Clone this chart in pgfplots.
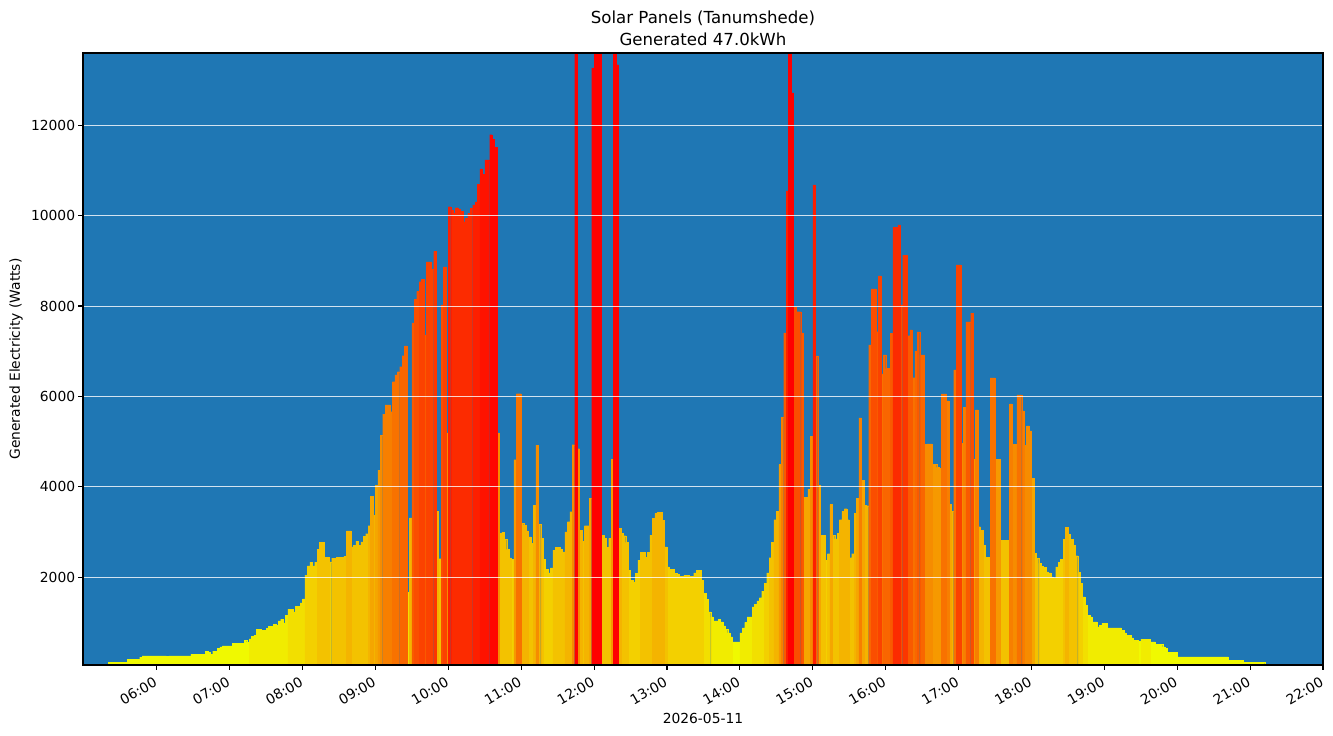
\documentclass[border=0pt]{standalone}
\usepackage{pgfplots}
\pgfplotsset{compat=1.18}
\usepackage{pgfplotstable}
\usepackage{fontspec}
\setmainfont{DejaVu Sans}
\definecolor{mplblue}{RGB}{31,119,180}

% one bar every 2 minutes, first bar centred at 05:13 (313 min)
\pgfplotstableread{
v
73
73
73
73
117
117
117
117
117
117
117
117
184
184
184
184
184
228
257
257
257
257
257
257
257
257
257
257
245
257
257
257
257
257
257
257
257
257
295
295
295
295
295
295
361
330
295
361
361
420
457
479
479
479
479
538
538
538
538
538
597
560
634
686
708
848
848
826
826
863
915
915
951
930
1033
1070
988
1158
1291
1291
1232
1358
1358
1431
1520
2044
2250
2332
2250
2332
2620
2775
2775
2443
2443
2339
2421
2421
2443
2443
2443
2465
3026
3026
2672
2709
2798
2709
2782
2908
2960
3137
3795
3373
4038
4370
5145
5610
5810
5810
5662
6326
6474
6548
6658
6902
7117
1668
3309
7628
8145
8326
8539
8588
7360
8977
8977
8816
9212
3462
2408
8025
8866
5192
10200
10129
10050
10176
10145
10090
9868
9948
10050
10160
10240
10306
10698
11037
10920
11237
11237
11791
11688
11513
5192
2968
2997
2835
2613
2428
2399
4599
6060
6060
3196
3152
3026
2893
2746
3595
4924
3174
2864
2392
2177
2096
2206
2598
2658
2658
2613
2561
3004
3226
3447
4931
15000
4842
3041
2797
3137
3137
3750
13270
15000
15000
15000
2930
2857
2658
2857
4614
15000
13340
3078
2968
2916
2768
2155
1934
1897
2081
2377
2547
2547
2436
2547
2930
3300
3410
3433
3433
3263
2672
2229
2170
2170
2081
2059
2022
2022
2044
2044
2022
2022
2096
2155
2155
1934
1639
1506
1232
1121
1033
1033
1063
1011
922
841
767
678
568
568
568
767
878
996
1121
1121
1343
1402
1476
1544
1690
1869
2095
2430
2775
3271
3453
4492
5531
7404
10550
15000
12720
7974
7874
7874
7404
3772
3772
3949
5123
10683
6895
4038
2930
2930
2368
2520
3606
2930
2846
2970
3271
3453
3515
3271
2430
2520
3407
3750
5522
4149
3594
3580
7139
8379
8379
7432
8667
6499
6918
6616
6616
7398
9746
9746
9797
8025
9126
9126
7345
7471
6415
7006
7427
6918
6918
4946
4950
4950
4503
4503
4430
4408
6054
6054
5898
3617
3462
6585
8911
8911
4961
5759
7649
7649
7841
4607
5699
3115
3041
2709
2436
2436
6408
6408
4607
4607
2820
2820
2820
2820
5832
4946
4946
6032
6032
5677
4924
5345
5234
4186
2525
2414
2303
2244
2215
2118
2096
2007
1971
2229
2325
2399
2842
3100
2953
2835
2709
2473
2100
1860
1564
1380
1158
1121
1011
1011
900
937
974
974
878
878
878
878
878
878
826
767
715
715
656
605
605
583
627
627
627
627
568
568
516
516
516
457
420
332
332
332
332
235
235
235
235
235
235
235
235
235
235
235
235
235
235
235
235
235
235
235
235
235
162
162
162
162
162
162
117
117
117
117
117
117
117
117
117
}\solar

\newcommand{\binplot}[4]{%
  \addplot[ybar, bar width=2, bar shift=0pt,
    fill={rgb,255:red,#3;green,#4;blue,0},
    draw={rgb,255:red,#3;green,#4;blue,0}, line width=0.15pt,
    restrict y to domain=#1:#2]
    table[x expr={313+2*\coordindex}, y=v] {\solar};}

\begin{document}
\begin{tikzpicture}
\begin{axis}[
  scale only axis,
  width=12.40in, height=6.12in,
  xmin=299.3, xmax=1320, ymin=55, ymax=13600,
  scaled y ticks=false,
  axis background/.style={fill=mplblue},
  axis on top,
  xtick={360,420,...,1320},
  xticklabels={06:00,07:00,08:00,09:00,10:00,11:00,12:00,13:00,14:00,15:00,16:00,17:00,18:00,19:00,20:00,21:00,22:00},
  ytick={2000,4000,6000,8000,10000,12000},
  yticklabels={2000,4000,6000,8000,10000,12000},
  ymajorgrids,
  grid style={white, line width=0.7pt, opacity=0.8},
  tick align=outside, xtick pos=bottom, ytick pos=left,
  major tick length=3.5pt,
  every tick/.style={black, line width=0.8pt},
  axis line style={black, line width=0.8pt},
  tick label style={font=\fontsize{10}{12}\selectfont},
  xticklabel style={rotate=30, anchor=north east, inner sep=2.5pt, xshift=-2pt},
  yticklabel style={inner sep=2pt},
  xlabel={2026-05-11},
  ylabel={Generated Electricity (Watts)},
  label style={font=\fontsize{10}{12}\selectfont},
  xlabel style={at={(axis description cs:0.5,0)}, anchor=center, yshift=-0.53in},
  ylabel style={at={(axis description cs:-0.054,0.5)}, anchor=center},
  title={Solar Panels (Tanumshede)\\Generated 47.0kWh},
  title style={font=\fontsize{12}{15.5}\selectfont, align=center,
    at={(axis description cs:0.5,1)}, anchor=south, inner sep=0pt, yshift=-0.01in},
]
\binplot{0}{599}{240}{249}
\binplot{600}{1199}{241}{236}
\binplot{1200}{1799}{242}{223}
\binplot{1800}{2399}{243}{208}
\binplot{2400}{2999}{243}{194}
\binplot{3000}{3599}{244}{180}
\binplot{3600}{4199}{245}{166}
\binplot{4200}{4799}{246}{153}
\binplot{4800}{5399}{246}{140}
\binplot{5400}{5999}{247}{127}
\binplot{6000}{6599}{248}{114}
\binplot{6600}{7199}{249}{102}
\binplot{7200}{7799}{249}{90}
\binplot{7800}{8399}{250}{78}
\binplot{8400}{8999}{251}{66}
\binplot{9000}{9599}{252}{54}
\binplot{9600}{10199}{252}{43}
\binplot{10200}{10799}{253}{31}
\binplot{10800}{11399}{254}{19}
\binplot{11400}{11999}{255}{6}
\binplot{12000}{99999}{255}{0}
\coordinate (bl) at (rel axis cs:0,0);
\coordinate (tr) at (rel axis cs:1,1);
\end{axis}
\pgfresetboundingbox
\path[use as bounding box] ([shift={(-0.83in,-0.71in)}]bl) rectangle ([shift={(0.10in,0.53in)}]tr);
\end{tikzpicture}
\end{document}
